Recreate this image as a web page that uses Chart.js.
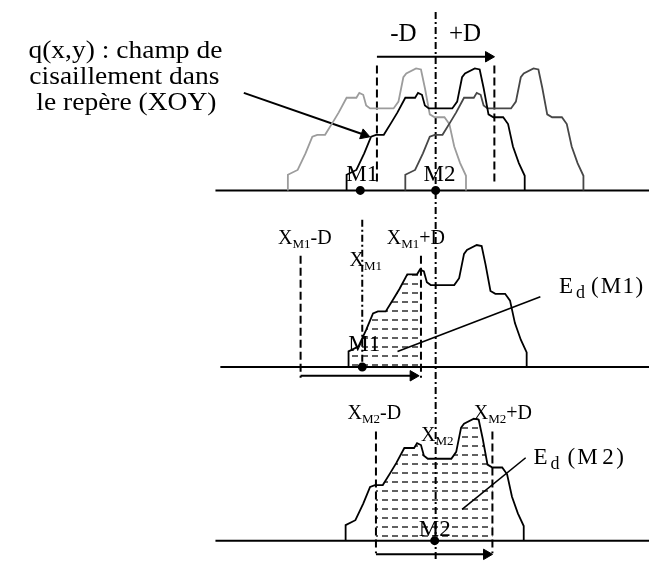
<!DOCTYPE html>
<html>
<head>
<meta charset="utf-8">
<script src="https://cdn.jsdelivr.net/npm/chart.js@4.4.0/dist/chart.umd.min.js"></script>
<style>
  html, body { margin: 0; padding: 0; background: #fff; }
  canvas { display: block; }
</style>
</head>
<body>
<canvas id="chart" width="656" height="575"></canvas>
<script>
// Shear profile q(x): offset from its left foot, height above the panel baseline
const PROFILE_DX = [0, 0, 10, 18, 25, 30, 38, 46, 52, 60, 70, 73, 77, 80, 84, 108, 113, 118, 121, 131, 136, 140, 145, 150, 160, 165, 170, 176, 182, 182];
const PROFILE_Q  = [0, 16, 21, 38, 55, 57, 57, 70, 80, 95, 95, 100, 98, 87, 84, 84, 91, 116, 120, 125, 124, 105, 78, 75, 75, 68, 45, 28, 15, 0];

// the two points and the half width of the window
const X_M1 = 362;
const X_M2 = 438;
const D = 60;

// layout of the three panels (canvas units, y grows downward)
const BASELINES = [188, 369, 547];
const TOP_FEET = [287, 347, 407];          // left feet of the three shifted copies
const TOP_COLORS = ['#9c9c9c', '#000000', '#474747'];
const FOOT_PANEL2 = 349;
const FOOT_PANEL3 = 346;

const SERIF = '"Liberation Serif", "Times New Roman", serif';

function profile(foot, base) {
    return PROFILE_DX.map((dx, i) => ({ x: foot + dx, y: base - PROFILE_Q[i] }));
}

function line(points, extra) {
    return Object.assign({
        data: points, showLine: true, pointRadius: 0, fill: false,
        borderColor: '#000', borderWidth: 2, tension: 0,
    }, extra);
}

function arrow(x0, y0, x1, y1, extra) {
    const rot = Math.atan2(y1 - y0, x1 - x0) * 180 / Math.PI + 90;
    return line([{ x: x0, y: y0 }, { x: x1, y: y1 }], Object.assign({
        pointRadius: [0, 6], pointStyle: 'triangle', rotation: rot,
        pointBackgroundColor: '#000', pointBorderColor: '#000', pointBorderWidth: 1,
    }, extra));
}

function vline(x, y0, y1, dash, width) {
    return line([{ x, y: y0 }, { x, y: y1 }], { borderDash: dash, borderWidth: width || 2 });
}

function hatchPattern() {
    const pc = document.createElement('canvas');
    pc.width = 10; pc.height = 9;
    const c = pc.getContext('2d');
    c.strokeStyle = '#3a3a3a';
    c.lineWidth = 1.6;
    c.beginPath();
    c.moveTo(2, 5); c.lineTo(8, 5);
    c.stroke();
    return document.getElementById('chart').getContext('2d').createPattern(pc, 'repeat');
}

const DASHED = [8, 4];
const DASHDOT = [7, 3, 2, 3];
const hatch = hatchPattern();

const datasets = [
    // panel 1
    line(profile(TOP_FEET[1], BASELINES[0]), { borderColor: TOP_COLORS[1], borderWidth: 1.8 }),
    line(profile(TOP_FEET[2], BASELINES[0]), { borderColor: TOP_COLORS[2], borderWidth: 1.8 }),
    line(profile(TOP_FEET[0], BASELINES[0]), { borderColor: TOP_COLORS[0], borderWidth: 1.8 }),
    line([{ x: 213, y: BASELINES[0] }, { x: 656, y: BASELINES[0] }]),
    vline(X_M2 - D, 60, 183, DASHED),
    vline(X_M2 + D, 60, 183, DASHED),
    arrow(X_M2 - D, 51, X_M2 + D - 6, 51),
    arrow(242, 88, 365, 131),
    line([{ x: X_M1 - 1, y: BASELINES[0] }, { x: X_M2, y: BASELINES[0] }],
         { showLine: false, pointRadius: 3.5, pointBackgroundColor: '#000', pointBorderColor: '#000' }),

    // long centre line through x = X_M2
    vline(X_M2, 5, 567, DASHDOT),

    // panel 2
    line(profile(FOOT_PANEL2, BASELINES[1]), { borderWidth: 1.8 }),
    line([{ x: 218, y: BASELINES[1] }, { x: 656, y: BASELINES[1] }]),
    vline(X_M1 - D - 2, 255, 380, DASHED),
    vline(X_M1 + 1, 218, BASELINES[1], DASHDOT),
    vline(X_M1 + D + 1, 255, 380, DASHED),
    arrow(X_M1 - D - 2, 378, X_M1 + D - 7, 378),
    line([{ x: 545, y: 297 }, { x: 399, y: 353 }], { borderWidth: 1.6 }),
    line([{ x: X_M1 + 1, y: BASELINES[1] }],
         { showLine: false, pointRadius: 3.5, pointBackgroundColor: '#000', pointBorderColor: '#000' }),

    // panel 3
    line(profile(FOOT_PANEL3, BASELINES[2]), { borderWidth: 1.8 }),
    line([{ x: 213, y: BASELINES[2] }, { x: 656, y: BASELINES[2] }]),
    vline(X_M2 - D - 1, 435, 560, DASHED),
    vline(X_M2 + D - 2, 435, 560, DASHED),
    arrow(X_M2 - D - 1, 561, X_M2 + D - 8, 561),
    line([{ x: 530, y: 462 }, { x: 465, y: 515 }], { borderWidth: 1.6 }),
    line([{ x: X_M2 - 1, y: BASELINES[2] }],
         { showLine: false, pointRadius: 3.5, pointBackgroundColor: '#000', pointBorderColor: '#000' }),

    // hatched integration windows (drawn first, clipped to [X-D, X+D])
    line(profile(FOOT_PANEL2, BASELINES[1]), {
        borderWidth: 0, borderColor: 'rgba(0,0,0,0)', backgroundColor: hatch,
        fill: { value: BASELINES[1] }, clipX: [X_M1 - D - 2, X_M1 + D + 1],
    }),
    line(profile(FOOT_PANEL3, BASELINES[2]), {
        borderWidth: 0, borderColor: 'rgba(0,0,0,0)', backgroundColor: hatch,
        fill: { value: BASELINES[2] }, clipX: [X_M2 - D - 1, X_M2 + D - 2],
    }),
];

// text: [text, size, baseline shift, extra spacing after]; sx = horizontal stretch
const LABELS = [
    { x: 121, y: 52, align: 'center', sx: 1.1, parts: [['q(x,y) : champ de', 25]] },
    { x: 120, y: 79, align: 'center', sx: 1.1, parts: [['cisaillement dans', 25]] },
    { x: 122, y: 106, align: 'center', sx: 1.1, parts: [['le repère (XOY)', 25]] },
    { x: 405, y: 35, align: 'center', parts: [['-D', 25]] },
    { x: 468, y: 35, align: 'center', parts: [['+D', 25]] },
    { x: 363, y: 178, align: 'center', parts: [['M1', 23]] },
    { x: 442, y: 178, align: 'center', parts: [['M2', 23]] },

    { x: 277, y: 243, parts: [['X', 20], ['M1', 13, 4], ['-D', 20]] },
    { x: 350, y: 265, parts: [['X', 20], ['M1', 13, 4]] },
    { x: 388, y: 243, parts: [['X', 20], ['M1', 13, 4], ['+D', 20]] },
    { x: 564, y: 293, parts: [['E', 23, 0, 3], ['d', 18, 5, 6], ['(', 23, 0, 2], ['M', 23, 0, 1.5], ['1', 23, 0, 1.5], [')', 23]] },
    { x: 365, y: 353, align: 'center', parts: [['M1', 23]] },

    { x: 348, y: 422, parts: [['X', 20], ['M2', 13, 4], ['-D', 20]] },
    { x: 423, y: 445, parts: [['X', 20], ['M2', 13, 4]] },
    { x: 477, y: 422, parts: [['X', 20], ['M2', 13, 4], ['+D', 20]] },
    { x: 538, y: 468, parts: [['E', 23, 0, 3], ['d', 18, 5, 8], ['(', 23, 0, 2], ['M', 23, 0, 4.5], ['2', 23, 0, 2.5], [')', 23]] },
    { x: 437, y: 542, align: 'center', parts: [['M2', 23]] },
];

const clipPlugin = {
    id: 'xclip',
    beforeDatasetDraw(chart, args) {
        const ds = chart.data.datasets[args.index];
        if (!ds.clipX) return;
        const xs = chart.scales.x;
        const a = xs.getPixelForValue(ds.clipX[0]);
        const b = xs.getPixelForValue(ds.clipX[1]);
        const ctx = chart.ctx;
        ctx.save();
        ctx.beginPath();
        ctx.rect(a, 0, b - a, chart.height);
        ctx.clip();
    },
    afterDatasetDraw(chart, args) {
        if (chart.data.datasets[args.index].clipX) chart.ctx.restore();
    },
};

const textPlugin = {
    id: 'diagramText',
    afterDraw(chart) {
        const ctx = chart.ctx;
        const xs = chart.scales.x, ys = chart.scales.y;
        ctx.fillStyle = '#000';
        ctx.textBaseline = 'alphabetic';
        ctx.textAlign = 'left';
        for (const lab of LABELS) {
            const sx = lab.sx || 1;
            let w = 0;
            for (const [t, s, , gap] of lab.parts) {
                ctx.font = s + 'px ' + SERIF;
                w += ctx.measureText(t).width + (gap || 0);
            }
            const ax = xs.getPixelForValue(lab.x);
            const y = ys.getPixelForValue(lab.y);
            ctx.save();
            ctx.translate(ax, 0);
            ctx.scale(sx, 1);
            let x = lab.align === 'center' ? -w / 2 : 0;
            for (const [t, s, dy, gap] of lab.parts) {
                ctx.font = s + 'px ' + SERIF;
                ctx.fillText(t, x, y + (dy || 0));
                x += ctx.measureText(t).width + (gap || 0);
            }
            ctx.restore();
        }
    },
};

// the clip must run before the filler paints the hatch
const filler = Chart.registry.getPlugin('filler');
Chart.unregister(filler);
Chart.register(clipPlugin, filler);

new Chart(document.getElementById('chart'), {
    type: 'scatter',
    data: { datasets },
    options: {
        responsive: false,
        animation: false,
        devicePixelRatio: 1,
        layout: { padding: 0 },
        plugins: { legend: { display: false }, tooltip: { enabled: false } },
        scales: {
            x: { type: 'linear', min: 0, max: 656, display: false },
            y: { type: 'linear', min: 0, max: 575, reverse: true, display: false },
        },
    },
    plugins: [textPlugin],
});
</script>
</body>
</html>
